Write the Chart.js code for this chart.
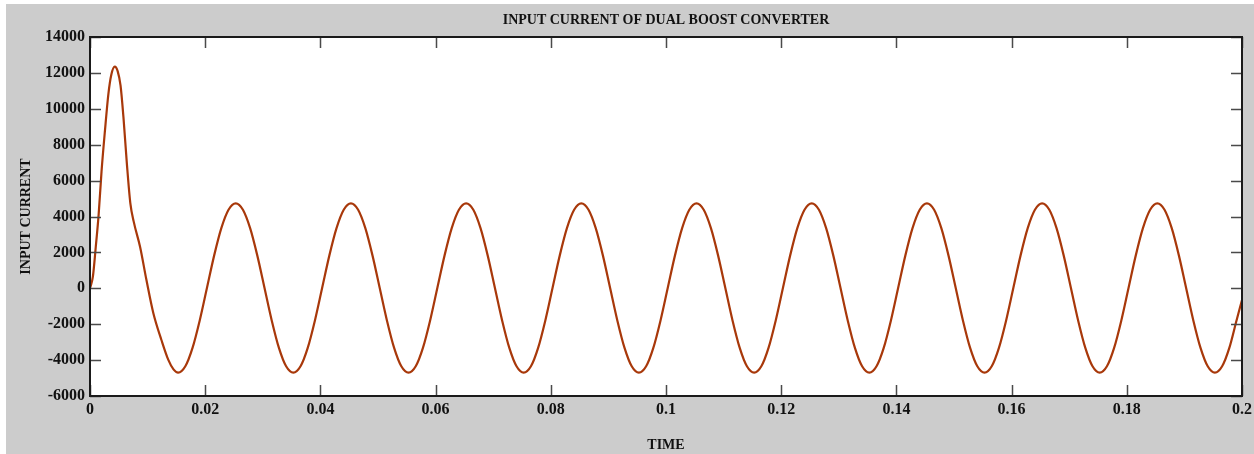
<!DOCTYPE html>
<html>
<head>
<meta charset="utf-8">
<title>Input current of dual boost converter</title>
<script src="https://cdn.jsdelivr.net/npm/chart.js"></script>
<style>
    html, body { margin: 0; padding: 0; background: #ffffff; }
    canvas { display: block; }
</style>
</head>
<body>
<canvas id="graficoCorrente" width="1254" height="454"></canvas>
<script>
// tempo (s)
const tempo = [
    0, 0.0005, 0.0010, 0.0015, 0.0020, 0.0026, 0.0032, 0.0037, 0.0043, 0.0048, 0.0053,
    0.0058, 0.0064, 0.0070, 0.0076, 0.0087, 0.0098, 0.0110, 0.0124, 0.0136, 0.0145,
    0.0153, 0.01655, 0.0178, 0.01905, 0.0203, 0.02155, 0.0228, 0.02405, 0.0253, 0.02655, 0.0278, 0.02905, 0.0303, 0.03155, 0.0328, 0.03405,
    0.0353, 0.03655, 0.0378, 0.03905, 0.0403, 0.04155, 0.0428, 0.04405, 0.0453, 0.04655, 0.0478, 0.04905, 0.0503, 0.05155, 0.0528, 0.05405,
    0.0553, 0.05655, 0.0578, 0.05905, 0.0603, 0.06155, 0.0628, 0.06405, 0.0653, 0.06655, 0.0678, 0.06905, 0.0703, 0.07155, 0.0728, 0.07405,
    0.0753, 0.07655, 0.0778, 0.07905, 0.0803, 0.08155, 0.0828, 0.08405, 0.0853, 0.08655, 0.0878, 0.08905, 0.0903, 0.09155, 0.0928, 0.09405,
    0.0953, 0.09655, 0.0978, 0.09905, 0.1003, 0.10155, 0.1028, 0.10405, 0.1053, 0.10655, 0.1078, 0.10905, 0.1103, 0.11155, 0.1128, 0.11405,
    0.1153, 0.11655, 0.1178, 0.11905, 0.1203, 0.12155, 0.1228, 0.12405, 0.1253, 0.12655, 0.1278, 0.12905, 0.1303, 0.13155, 0.1328, 0.13405,
    0.1353, 0.13655, 0.1378, 0.13905, 0.1403, 0.14155, 0.1428, 0.14405, 0.1453, 0.14655, 0.1478, 0.14905, 0.1503, 0.15155, 0.1528, 0.15405,
    0.1553, 0.15655, 0.1578, 0.15905, 0.1603, 0.16155, 0.1628, 0.16405, 0.1653, 0.16655, 0.1678, 0.16905, 0.1703, 0.17155, 0.1728, 0.17405,
    0.1753, 0.17655, 0.1778, 0.17905, 0.1803, 0.18155, 0.1828, 0.18405, 0.1853, 0.18655, 0.1878, 0.18905, 0.1903, 0.19155, 0.1928, 0.19405,
    0.1953, 0.19655, 0.1978, 0.19905, 0.2000
];

// corrente de entrada (A)
const corrente = [
    0, 650, 2300, 4100, 6500, 8800, 10850, 11900, 12350, 12100, 11300,
    9560, 6950, 4750, 3700, 2300, 460, -1390, -2880, -3990, -4520,
    -4700, -4345, -3320, -1790, 15, 1820, 3350, 4375, 4735, 4375, 3350, 1820, 15, -1790, -3320, -4345,
    -4700, -4345, -3320, -1790, 15, 1820, 3350, 4375, 4735, 4375, 3350, 1820, 15, -1790, -3320, -4345,
    -4700, -4345, -3320, -1790, 15, 1820, 3350, 4375, 4735, 4375, 3350, 1820, 15, -1790, -3320, -4345,
    -4700, -4345, -3320, -1790, 15, 1820, 3350, 4375, 4735, 4375, 3350, 1820, 15, -1790, -3320, -4345,
    -4700, -4345, -3320, -1790, 15, 1820, 3350, 4375, 4735, 4375, 3350, 1820, 15, -1790, -3320, -4345,
    -4700, -4345, -3320, -1790, 15, 1820, 3350, 4375, 4735, 4375, 3350, 1820, 15, -1790, -3320, -4345,
    -4700, -4345, -3320, -1790, 15, 1820, 3350, 4375, 4735, 4375, 3350, 1820, 15, -1790, -3320, -4345,
    -4700, -4345, -3320, -1790, 15, 1820, 3350, 4375, 4735, 4375, 3350, 1820, 15, -1790, -3320, -4345,
    -4700, -4345, -3320, -1790, 15, 1820, 3350, 4375, 4735, 4375, 3350, 1820, 15, -1790, -3320, -4345,
    -4700, -4345, -3320, -1790, -650
];

const limitesY = [-6000, 14000];
const passoY = 2000;
const limitesX = [0, 0.2];
const passoX = 0.02;

const fonteSerif = 'Liberation Serif, Times New Roman, serif';
const corLinha = '#a8380a';

// fundo cinza e area do grafico branca
const fundo = {
    id: 'fundo',
    beforeDraw: function (chart) {
        const ctx = chart.ctx;
        const a = chart.chartArea;
        ctx.save();
        ctx.fillStyle = '#ffffff';
        ctx.fillRect(0, 0, chart.width, chart.height);
        ctx.fillStyle = '#cccccc';
        ctx.fillRect(6, 4, chart.width - 6, chart.height - 4);
        ctx.fillStyle = '#ffffff';
        ctx.fillRect(a.left, a.top, a.right - a.left, a.bottom - a.top);
        ctx.restore();
    }
};

// moldura e marcas para dentro (estilo matlab)
const moldura = {
    id: 'moldura',
    afterDraw: function (chart) {
        const ctx = chart.ctx;
        const a = chart.chartArea;
        const sx = chart.scales.x;
        const sy = chart.scales.y;
        const tam = 11;
        ctx.save();
        ctx.strokeStyle = '#4a4a4a';
        ctx.lineWidth = 1.5;
        ctx.beginPath();
        sx.ticks.forEach(function (t) {
            const px = Math.round(sx.getPixelForValue(t.value)) + 0.5;
            ctx.moveTo(px, a.bottom);
            ctx.lineTo(px, a.bottom - tam);
            ctx.moveTo(px, a.top);
            ctx.lineTo(px, a.top + tam);
        });
        sy.ticks.forEach(function (t) {
            const py = Math.round(sy.getPixelForValue(t.value)) + 0.5;
            ctx.moveTo(a.left, py);
            ctx.lineTo(a.left + tam, py);
            ctx.moveTo(a.right, py);
            ctx.lineTo(a.right - tam, py);
        });
        ctx.stroke();
        ctx.strokeStyle = '#1a1a1a';
        ctx.lineWidth = 2;
        ctx.strokeRect(a.left, a.top, a.right - a.left, a.bottom - a.top);
        ctx.restore();
    }
};

const pontos = tempo.map(function (t, i) {
    return { x: t, y: corrente[i] };
});

const config = {
    type: 'line',
    data: {
        datasets: [{
            label: 'Input current',
            data: pontos,
            borderColor: corLinha,
            backgroundColor: corLinha,
            borderWidth: 2.2,
            pointRadius: 0,
            cubicInterpolationMode: 'monotone',
            fill: false
        }]
    },
    options: {
        responsive: false,
        animation: false,
        layout: {
            padding: { left: 0, right: 12, top: 0, bottom: 0 }
        },
        plugins: {
            legend: { display: false },
            tooltip: { enabled: false },
            title: {
                display: true,
                fullSize: false,
                text: 'INPUT CURRENT OF DUAL BOOST CONVERTER',
                color: '#111111',
                font: { family: fonteSerif, size: 14, weight: 'bold' },
                padding: { top: 12, bottom: 8.2 }
            }
        },
        scales: {
            x: {
                type: 'linear',
                min: limitesX[0],
                max: limitesX[1],
                afterFit: function (scale) {
                    scale.height = 58;
                    scale.paddingRight = 0;
                    scale.paddingLeft = 0;
                },
                grid: { display: true, drawOnChartArea: false, drawTicks: false },
                border: { display: false },
                ticks: {
                    stepSize: passoX,
                    autoSkip: false,
                    maxRotation: 0,
                    padding: 4,
                    color: '#111111',
                    font: { family: fonteSerif, size: 16, weight: 'bold' },
                    callback: function (v) { return String(Number(v.toFixed(2))); }
                },
                title: {
                    display: true,
                    text: 'TIME',
                    color: '#111111',
                    font: { family: fonteSerif, size: 14, weight: 'bold' },
                    padding: { top: 0, bottom: 0 }
                }
            },
            y: {
                type: 'linear',
                min: limitesY[0],
                max: limitesY[1],
                afterFit: function (scale) { scale.width = 90; },
                grid: { display: true, drawOnChartArea: false, drawTicks: false },
                border: { display: false },
                ticks: {
                    stepSize: passoY,
                    padding: 5,
                    color: '#111111',
                    font: { family: fonteSerif, size: 16, weight: 'bold' },
                    callback: function (v) { return String(v); }
                },
                title: {
                    display: true,
                    text: 'INPUT CURRENT',
                    color: '#111111',
                    font: { family: fonteSerif, size: 14, weight: 'bold' },
                    padding: { top: 18, bottom: 0 }
                }
            }
        }
    },
    plugins: [fundo, moldura]
};

const graficoCorrente = new Chart(document.getElementById('graficoCorrente'), config);
</script>
</body>
</html>
